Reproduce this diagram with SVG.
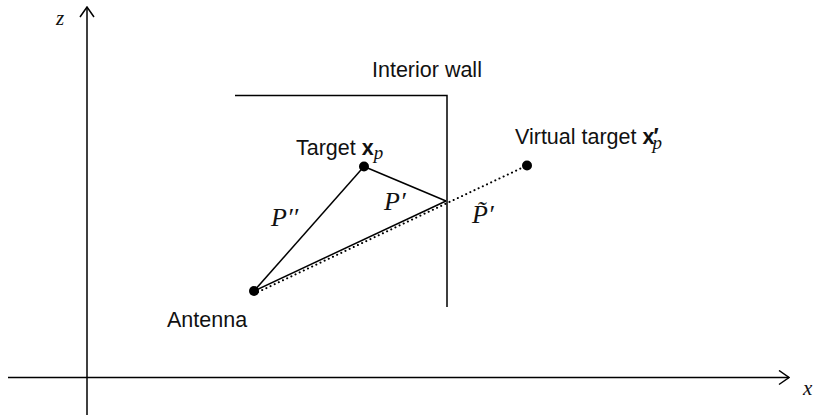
<svg xmlns="http://www.w3.org/2000/svg" width="816" height="419" viewBox="0 0 816 419">
<style>
.ln{stroke:#000;stroke-width:1.5;fill:none}
.dot{stroke:#000;stroke-width:2;stroke-dasharray:0.1 4.5;fill:none;stroke-linecap:round}
.sans{font-family:"Liberation Sans",Arial,sans-serif;font-size:21.5px;fill:#111}
.math{font-family:"Liberation Serif","Times New Roman",serif;font-style:italic;font-size:26px;fill:#111}
.pt{fill:#000}
</style>
<defs>
<marker id="arr" viewBox="0 0 12 16" refX="11" refY="8" markerWidth="12" markerHeight="16" markerUnits="userSpaceOnUse" orient="auto">
<path d="M1,1 L11,8 L1,15" fill="none" stroke="#000" stroke-width="1.5"/>
</marker>
</defs>
<g id="axes">
<line class="ln" x1="87" y1="415" x2="87" y2="7" marker-end="url(#arr)"/>
<line class="ln" x1="8" y1="377.5" x2="789" y2="377.5" marker-end="url(#arr)"/>
<text class="math" x="56" y="25" style="font-size:21px">z</text>
<text class="math" x="803" y="395" style="font-size:21px">x</text>
</g>
<g id="wall">
<polyline class="ln" points="235,95.5 447,95.5 447,307"/>
<text class="sans" x="372" y="77">Interior wall</text>
</g>
<g id="connectors">
<line class="ln" x1="254" y1="291" x2="364" y2="166.5"/>
<line class="ln" x1="364" y1="166.5" x2="446" y2="201"/>
<line class="ln" x1="254" y1="291" x2="446" y2="201"/>
<line class="dot" x1="258" y1="292" x2="527" y2="165.5"/>
<text class="math" x="271" y="226">P′′</text>
<text class="math" x="384" y="210">P′</text>
<text class="math" x="472" y="223">P̃′</text>
</g>
<g id="antenna">
<circle class="pt" cx="254" cy="291" r="5"/>
<text class="sans" x="167" y="327">Antenna</text>
</g>
<g id="target">
<circle class="pt" cx="364" cy="166.5" r="5"/>
<text class="sans" x="296" y="155">Target <tspan font-weight="bold">x</tspan><tspan class="math" style="font-size:19px" dy="4">p</tspan></text>
</g>
<g id="virtual-target">
<circle class="pt" cx="527" cy="165.5" r="5"/>
<text class="sans" x="515" y="144">Virtual target <tspan font-weight="bold">x</tspan><tspan font-weight="bold" dx="-1" dy="-1">′</tspan><tspan class="math" style="font-size:19px" dx="-6" dy="6">p</tspan></text>
</g>
</svg>
